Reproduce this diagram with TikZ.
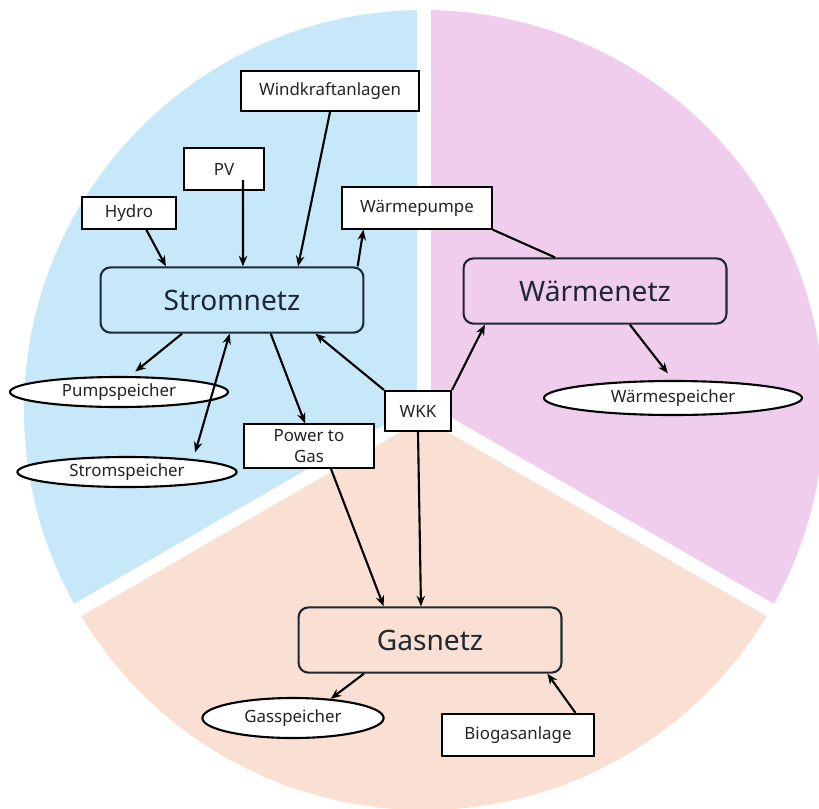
\documentclass[tikz,border=0pt]{standalone}
\usepackage{fontspec}
\setmainfont{Noto Sans}
\usetikzlibrary{calc,shapes.geometric,arrows.meta}
\definecolor{stromblau}{RGB}{198,232,248}
\definecolor{waermerosa}{RGB}{240,205,237}
\definecolor{gaspfirsich}{RGB}{249,224,211}
\definecolor{rahmen}{RGB}{30,40,52}
\definecolor{schrift}{RGB}{35,35,35}
\tikzset{
  kasten/.style={draw=black, line width=1.5pt, fill=white, inner sep=0pt,
    font=\fontsize{12}{15}\selectfont, text=schrift},
  netz/.style={draw=rahmen, line width=1.5pt, rounded corners=7pt, inner sep=0pt,
    minimum width=6.57cm, minimum height=1.63cm,
    font=\fontsize{20}{22}\selectfont, text=rahmen},
  speicher/.style={ellipse, draw=black, line width=1.5pt, fill=white, inner sep=0pt,
    font=\fontsize{12}{13}\selectfont, text=schrift},
  pfeil/.style={line width=1.5pt, -{Stealth[length=7.5pt,width=6pt]}},
  doppelpfeil/.style={line width=1.5pt, {Stealth[length=7.5pt,width=6pt]}-{Stealth[length=7.5pt,width=6pt]}},
}
\begin{document}
\begin{tikzpicture}[x=0.025cm, y=-0.025cm]
    \useasboundingbox (0,0) rectangle (819,808);
    \begin{scope}[shift={(424,410)}, yscale=-1]
        \fill[stromblau] (0,0) -- (90:400) arc[start angle=90, end angle=210, radius=400] -- cycle;
        \fill[gaspfirsich] (0,0) -- (210:400) arc[start angle=210, end angle=330, radius=400] -- cycle;
        \fill[waermerosa] (0,0) -- (330:400) arc[start angle=330, end angle=450, radius=400] -- cycle;
        \foreach \w in {90,210,330}
            \draw[white, line width=10pt] (0,0) -- (\w:410);
    \end{scope}
    \node[kasten, minimum width=4.43cm, minimum height=1cm] (Windkraftanlagen) at (330,91) {Windkraftanlagen};
    \node[kasten, minimum width=1.98cm, minimum height=1.03cm] (PV) at (224,169) {PV};
    \node[kasten, minimum width=2.33cm, minimum height=0.78cm] (Hydro) at (129,213) {Hydro};
    \node[kasten, minimum width=3.73cm, minimum height=1.03cm] (Waermepumpe) at (417,208) {Wärmepumpe};
    \node[netz, fill=stromblau] (Stromnetz) at (232,300) {Stromnetz};
    \node[netz, fill=waermerosa] (Waermenetz) at (595,291) {Wärmenetz};
    \node[netz, fill=gaspfirsich] (Gasnetz) at (430,640) {Gasnetz};
    \node[speicher, minimum width=5.45cm, minimum height=0.75cm] (Pumpspeicher) at (119,392) {Pumpspeicher};
    \node[speicher, minimum width=5.48cm, minimum height=0.75cm] (Stromspeicher) at (127,472) {Stromspeicher};
    \node[speicher, minimum width=6.45cm, minimum height=0.85cm] (Waermespeicher) at (673,398) {Wärmespeicher};
    \node[speicher, minimum width=4.53cm, minimum height=1cm] (Gasspeicher) at (293,718) {Gasspeicher};
    \node[kasten, minimum width=3.25cm, minimum height=1.08cm, align=center] (PowerToGas) at (309,446) {Power to\\Gas};
    \node[kasten, minimum width=1.65cm, minimum height=1cm] (WKK) at (418,411) {WKK};
    \node[kasten, minimum width=3.78cm, minimum height=1.05cm] (Biogasanlage) at (518,735) {Biogasanlage};
    \draw[pfeil] (Hydro.316) -- (Stromnetz.153);
    \draw[pfeil] ($(PV.center)+(19,11)$) -- (Stromnetz.72);
    \draw[pfeil] (Windkraftanlagen.south) -- (Stromnetz.27);
    \draw[pfeil] (Stromnetz.15) -- (Waermepumpe.202);
    \draw[line width=1.5pt] (Waermepumpe.south east) -- (Waermenetz.140);
    \draw[pfeil, shorten >=5pt] (Stromnetz.214) -- (Pumpspeicher.56);
    \draw[doppelpfeil, shorten >=5pt] (Stromnetz.266) -- (Stromspeicher.11);
    \draw[pfeil] (Stromnetz.319) -- (PowerToGas.100);
    \draw[pfeil] (WKK.north west) -- (Stromnetz.338);
    \draw[pfeil] (WKK.north east) -- (Waermenetz.197);
    \draw[pfeil, shorten >=6pt] (Waermenetz.316) -- (Waermespeicher.north);
    \draw[pfeil] (PowerToGas.314) -- (Gasnetz.144);
    \draw[pfeil] (WKK.south) -- (Gasnetz.105);
    \draw[pfeil] (Gasnetz.207) -- (Gasspeicher.27);
    \draw[pfeil] (Biogasanlage.21) -- (Gasnetz.344);
\end{tikzpicture}
\end{document}
